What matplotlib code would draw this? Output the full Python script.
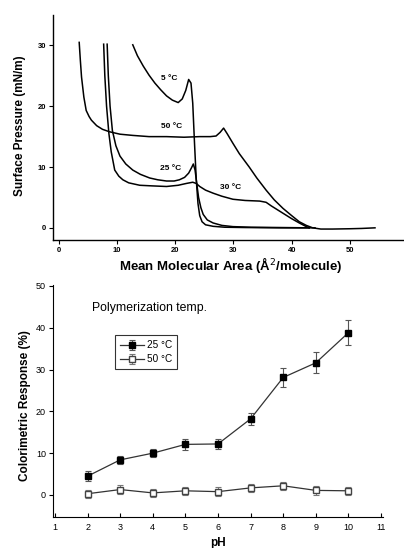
import matplotlib
matplotlib.use('Agg')
import matplotlib.pyplot as plt
import numpy as np

plt.rcParams['font.family'] = ['Liberation Sans', 'DejaVu Sans']

# ---- isotherm data (area in A^2/molecule, pressure in mN/m) ----
area_5 = [12.7, 13.5, 14.5, 15.5, 16.5, 17.5, 18.5, 19.5, 20.5, 21.2, 21.8, 22.3, 22.7, 23.0, 23.3, 23.6, 23.9, 24.2, 24.6, 25.2, 26.5, 28.5, 32, 38, 44]
press_5 = [30.1, 28.3, 26.6, 25.1, 23.8, 22.7, 21.7, 21.0, 20.6, 21.2, 22.6, 24.4, 23.8, 20.5, 14.0, 8.0, 4.0, 2.0, 1.0, 0.5, 0.25, 0.1, 0.05, 0.0, 0.0]

area_25 = [8.3, 8.5, 8.8, 9.2, 9.8, 10.5, 11.5, 12.7, 14.0, 15.6, 17.0, 18.5, 19.8, 20.7, 21.6, 22.3, 22.8, 23.1, 23.4, 23.7, 24.0, 24.4, 24.8, 25.5, 26.5, 28.0, 29.9, 33, 38, 43]
press_25 = [30.2, 25.0, 20.0, 16.0, 13.5, 11.8, 10.5, 9.5, 8.8, 8.2, 7.9, 7.7, 7.7, 7.9, 8.3, 9.0, 9.9, 10.5, 9.5, 7.2, 5.0, 3.3, 2.2, 1.3, 0.8, 0.4, 0.2, 0.1, 0.05, 0.0]

area_30 = [7.7, 7.9, 8.2, 8.6, 9.0, 9.6, 10.3, 11.0, 12.0, 13.9, 16.0, 18.5, 20.5, 21.9, 23.0, 23.6, 24.2, 25.2, 26.5, 28.0, 29.9, 32.0, 34.5, 35.6, 36.5, 38.5, 40.0, 41.3, 42.3, 43.0]
press_30 = [30.2, 25.0, 20.0, 15.5, 12.5, 9.5, 8.5, 7.9, 7.4, 7.0, 6.9, 6.8, 7.0, 7.3, 7.5, 7.3, 6.8, 6.2, 5.7, 5.2, 4.7, 4.5, 4.4, 4.2, 3.6, 2.4, 1.5, 0.8, 0.3, 0.0]

area_50 = [3.5, 3.7, 3.9, 4.3, 4.7, 5.2, 5.6, 6.5, 7.5, 8.7, 10.5, 12.7, 15.5, 18.5, 21.5, 24.2, 26.0, 27.0, 27.7, 28.3, 28.9, 29.9, 31.0, 32.7, 34.0, 35.6, 37.0, 38.5, 40.0, 41.3, 42.5, 43.6, 45, 47, 50, 52, 54.3]
press_50 = [30.5, 27.5, 24.8, 21.5, 19.3, 18.3, 17.7, 16.8, 16.2, 15.8, 15.4, 15.2, 15.0, 15.0, 14.9, 15.0, 15.0, 15.1, 15.7, 16.4, 15.5, 13.9, 12.2, 10.0, 8.2, 6.2, 4.6, 3.2, 2.0, 1.0, 0.4, 0.0, -0.2, -0.2, -0.15, -0.1, 0.0]

# ---- colorimetric response data ----
ph = [2, 3, 4, 5, 6, 7, 8, 9, 10]
resp_25 = [4.5, 8.4, 10.0, 12.1, 12.2, 18.2, 28.1, 31.6, 38.8]
err_25 = [1.2, 1.0, 1.0, 1.3, 1.2, 1.5, 2.3, 2.5, 3.0]
resp_50 = [0.3, 1.3, 0.5, 1.0, 0.8, 1.7, 2.2, 1.1, 1.0]
err_50 = [1.0, 1.0, 1.0, 1.0, 1.0, 1.0, 1.0, 1.0, 1.0]

W, H = 404, 548
fig = plt.figure(figsize=(W / 100, H / 100), dpi=100)

# top panel: isotherms
ax1 = fig.add_axes([53 / W, 1 - 240 / H, 361 / W, 225 / H])
for a, p in [(area_5, press_5), (area_25, press_25), (area_30, press_30), (area_50, press_50)]:
    ax1.plot(a, p, color='black', lw=1.1)
ax1.set_xlim(-1, 61)
ax1.set_ylim(-2, 35)
ax1.set_xticks([0, 10, 20, 30, 40, 50])
ax1.set_yticks([0, 10, 20, 30])
for s in ['top', 'right']:
    ax1.spines[s].set_visible(False)
ax1.spines['left'].set_linewidth(1.0)
ax1.spines['bottom'].set_linewidth(1.0)
ax1.tick_params(direction='out', length=3, width=0.8, labelsize=5.5, pad=2)
for lab in ax1.get_xticklabels() + ax1.get_yticklabels():
    lab.set_fontweight('bold')

ax1.text(19.0, 24.5, '5 °C', fontsize=6, fontweight='bold', ha='center', va='center')
ax1.text(19.4, 16.6, '50 °C', fontsize=6, fontweight='bold', ha='center', va='center')
ax1.text(19.2, 9.8, '25 °C', fontsize=6, fontweight='bold', ha='center', va='center')
ax1.text(29.5, 6.7, '30 °C', fontsize=6, fontweight='bold', ha='center', va='center')

fig.text(231 / W, 1 - 265 / H, 'Mean Molecular Area (Å$^2$/molecule)', fontsize=9.5,
         fontweight='bold', ha='center', va='center')
fig.text(20 / W, 1 - 126 / H, 'Surface Pressure (mN/m)', fontsize=8.5, fontweight='bold',
         ha='center', va='center', rotation=90)

# bottom panel: colorimetric response
ax2 = fig.add_axes([53 / W, 1 - 517 / H, 330 / W, 232 / H])
ax2.errorbar(ph, resp_25, yerr=err_25, color='#333333', lw=0.9, marker='s', ms=4.3,
             mfc='black', mec='black', ecolor='#555555', elinewidth=0.8, capsize=2,
             capthick=0.8, label='25 °C')
ax2.errorbar(ph, resp_50, yerr=err_50, color='#333333', lw=0.9, marker='s', ms=4.3,
             mfc='white', mec='#444444', ecolor='#777777', elinewidth=0.8, capsize=2,
             capthick=0.8, label='50 °C')
ax2.set_xlim(0.94, 11.06)
ax2.set_ylim(-5.26, 50.2)
ax2.set_xticks(range(1, 12))
ax2.set_yticks([0, 10, 20, 30, 40, 50])
for s in ['top', 'right']:
    ax2.spines[s].set_visible(False)
ax2.tick_params(axis='y', direction='out', length=3, width=0.8, labelsize=6.5, pad=2)
ax2.tick_params(axis='x', direction='in', length=3, width=0.8, labelsize=6.5, pad=4)

leg = ax2.legend(loc='upper left', bbox_to_anchor=(0.173, 0.806), fontsize=7.2,
                 frameon=True, fancybox=False, handlelength=2.4, borderpad=0.5,
                 labelspacing=0.4, handletextpad=0.3)
leg.get_frame().set_edgecolor('black')
leg.get_frame().set_linewidth(0.8)

ax2.text(0.118, 0.90, 'Polymerization temp.', transform=ax2.transAxes, fontsize=8.8,
         ha='left', va='center')

fig.text(25 / W, 1 - 406 / H, 'Colorimetric Response (%)', fontsize=8.5, fontweight='bold',
         ha='center', va='center', rotation=90)
fig.text(218 / W, 1 - 543 / H, 'pH', fontsize=8.5, fontweight='bold', ha='center', va='center')

fig.savefig('out.png', dpi=100)
